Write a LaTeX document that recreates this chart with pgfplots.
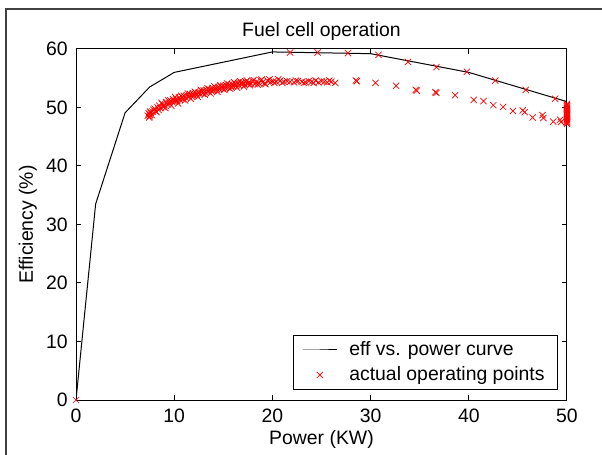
\documentclass[border=0pt]{standalone}
\usepackage{fontspec}
\setmainfont{Liberation Sans}
\usepackage{pgfplots}
\pgfplotsset{compat=1.18}
\pgfplotstableread{
P eff
0 0
2 33.5
5 49.1
7.5 53.5
10 56.0
20 59.5
30 59.2
40 56.0
50 51.0
}\curvedata
\pgfplotstableread{
P eff
0 0
7.3 48.6
7.4 49.0
7.5 48.8
7.5 48.5
7.6 49.1
7.8 49.3
8.0 49.8
8.1 49.4
8.3 50.0
8.4 49.6
8.5 50.3
8.6 49.9
8.8 50.6
8.9 50.1
9.0 50.4
9.2 50.9
9.3 50.5
9.5 50.8
9.6 51.2
9.8 50.9
9.9 51.4
10.0 51.0
10.2 51.5
10.3 51.1
10.5 51.7
10.6 51.3
10.8 51.8
10.9 51.4
11.0 52.0
11.2 51.6
11.3 52.1
11.5 51.8
11.6 52.3
11.8 51.9
11.9 52.4
12.0 52.0
12.2 52.5
12.3 52.1
12.5 52.6
12.6 52.3
12.8 52.8
12.9 52.4
13.0 52.9
13.2 52.5
13.3 53.0
13.5 52.7
13.6 53.1
13.8 52.8
13.9 53.3
14.0 52.9
14.2 53.4
14.3 53.0
14.5 53.5
14.6 53.1
14.8 53.6
14.9 53.2
15.0 53.7
15.2 53.3
15.3 53.8
15.5 53.4
15.6 53.9
15.8 53.5
15.9 54.0
16.0 53.6
16.2 54.1
16.3 53.7
16.5 54.2
16.6 53.8
16.8 54.2
16.9 53.9
17.0 54.3
17.2 53.9
17.3 54.4
17.5 54.0
17.6 54.3
17.8 54.1
18.0 54.5
18.2 54.0
18.4 54.4
18.6 54.2
18.8 54.6
19.0 54.3
19.2 54.1
19.5 54.6
19.8 54.3
20.1 54.5
20.4 54.4
20.8 54.6
21.2 54.4
21.5 54.5
21.8 54.4
22.2 54.3
22.6 54.5
23.0 54.4
23.4 54.3
23.7 54.5
24.0 54.4
24.4 54.6
24.7 54.3
25.0 54.5
25.3 54.4
25.6 54.3
26.0 54.4
26.4 54.2
7.45 48.3
7.55 49.3
7.7 48.7
7.9 49.6
8.2 49.2
8.7 50.8
9.1 49.9
9.4 51.2
9.7 50.3
10.1 51.8
10.4 50.7
10.7 52.0
11.1 51.2
11.4 52.4
11.7 51.5
12.1 52.7
12.4 51.8
12.7 53.0
13.1 52.2
13.4 53.3
13.7 52.4
14.1 53.6
14.4 52.7
14.7 53.8
15.1 53.0
15.4 54.1
15.7 53.2
16.1 54.3
16.4 53.4
16.7 54.5
17.1 53.6
17.4 54.6
17.7 53.8
18.1 54.7
18.5 53.9
18.9 54.8
19.3 54.0
19.7 54.8
20.2 54.2
20.6 54.8
21.0 54.2
22.4 54.6
23.2 54.2
24.2 54.2
25.8 54.6
28.5 54.6
28.6 54.5
30.5 54.2
32.6 53.7
34.6 53.0
34.7 52.9
36.6 52.6
36.7 52.5
38.6 52.1
40.5 51.3
41.5 51.1
42.5 50.4
43.5 50.1
44.5 49.4
45.5 49.5
45.7 49.2
46.5 48.3
47.5 48.7
47.6 48.2
48.6 47.6
49.3 47.9
49.4 47.5
50 47.2
50 47.4
50 47.6
50 47.8
50 48.0
50 48.2
50 48.4
50 48.6
50 48.8
50 49.0
50 49.2
50 49.4
50 49.6
50 49.8
50 50.0
50 50.2
50 50.4
50 50.6
21.8 59.4
24.6 59.4
27.7 59.3
30.8 59.0
33.8 57.8
36.7 56.9
39.8 56.1
42.7 54.6
45.8 53.0
48.8 51.5
}\pointdata
\begin{document}
\begin{tikzpicture}
\useasboundingbox (0,0) rectangle (301bp,227.5bp);
\fill[white] (0,0) rectangle (301bp,227.5bp);
\draw[black!75, line width=0.6bp] (3bp,-1bp) -- (3bp,223bp) -- (302bp,223bp);
\begin{axis}[
  at={(38bp,27.5bp)}, anchor=south west,
  width=245.5bp, height=175.5bp, scale only axis,
  xmin=0, xmax=50, ymin=0, ymax=60,
  xtick={0,10,...,50}, ytick={0,10,...,60},
  tick align=inside, major tick length=2.5bp,
  axis line style={line width=0.5bp},
  tick style={line width=0.5bp, black},
  font=\fontsize{9.7bp}{11bp}\selectfont,
  /pgf/number format/assume math mode=true,
  xticklabel style={anchor=base, yshift=-11bp, inner sep=0pt},
  yticklabel style={anchor=east, xshift=-4bp, inner sep=0pt},
  title={Fuel cell operation},
  every axis title shift=0pt,
  title style={at={(axis description cs:0.5,1.037)}, anchor=base, inner sep=0pt},
  xlabel={Power (KW)},
  xlabel style={at={(axis description cs:0.5,-0.1254)}, anchor=base, inner sep=0pt},
  ylabel={Efficiency (\%)},
  ylabel style={at={(axis description cs:-0.0876,0.5)}, anchor=base, inner sep=0pt},
  legend style={at={(axis description cs:0.9817,0.0285)}, anchor=south east,
    draw=black, line width=0.5bp, fill=white, inner xsep=4.5bp, inner ysep=1bp,
    row sep=0bp, font=\fontsize{9.7bp}{11bp}\selectfont,
    /tikz/every odd column/.append style={column sep=4bp}},
  legend cell align=left,
  legend image code/.code={\draw[mark repeat=2,mark phase=2,#1] plot coordinates {(0bp,0bp) (8.5bp,0bp) (17bp,0bp)};},
]
\addplot[black, line width=0.5bp, mark=none] table[x=P, y=eff] {\curvedata};
\addlegendentry{eff vs. power curve}
\addplot[red, only marks, mark=x, mark size=2.2bp, mark options={line width=0.35bp}] table[x=P, y=eff] {\pointdata};
\addlegendentry{actual operating points}
\end{axis}
\end{tikzpicture}
\end{document}
